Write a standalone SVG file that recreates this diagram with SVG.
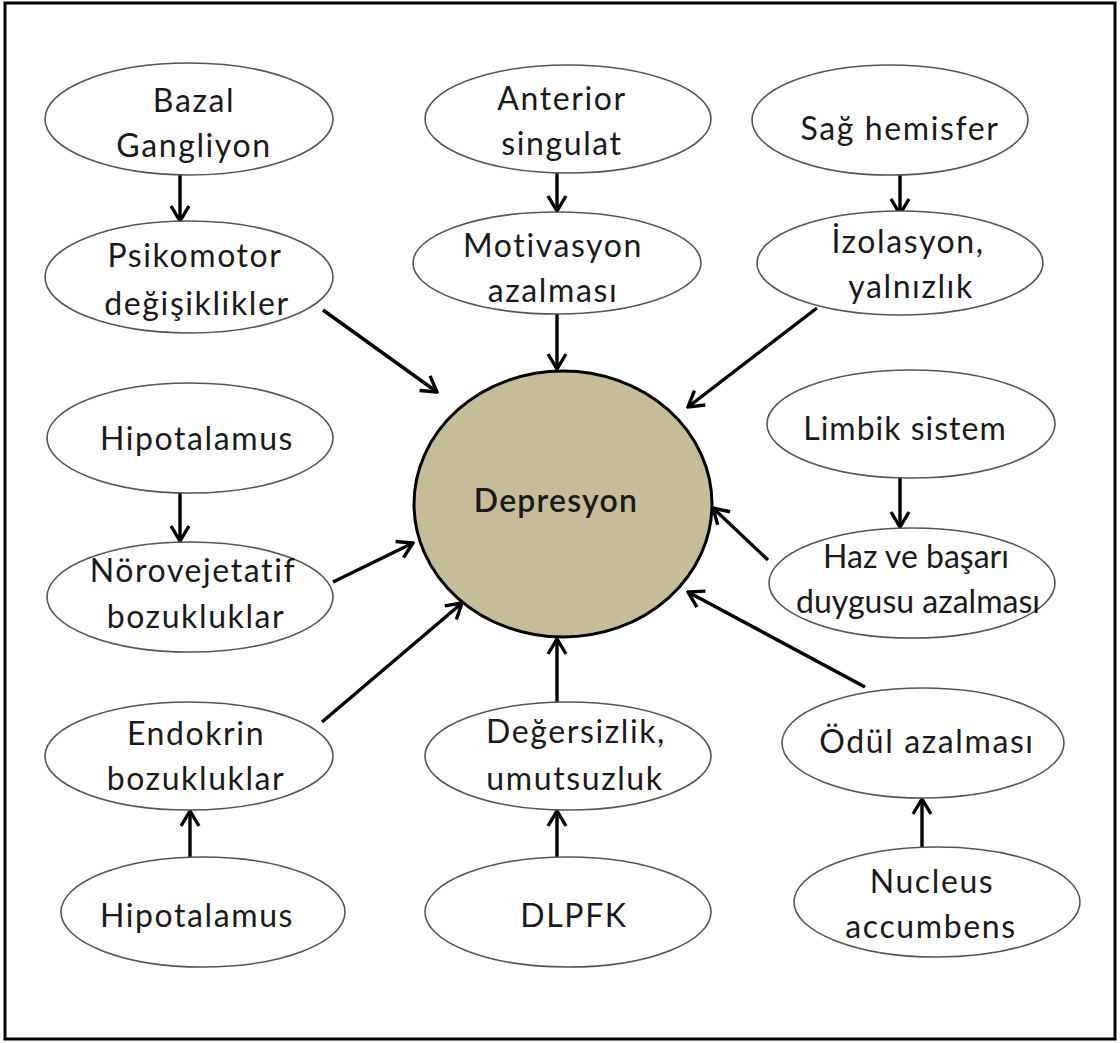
<svg xmlns="http://www.w3.org/2000/svg" width="1120" height="1043" viewBox="0 0 1120 1043">
<style>
.n ellipse{fill:#fff;stroke:#555;stroke-width:1.6}
text{font-family:Lato,"Liberation Sans",sans-serif;font-size:32px;letter-spacing:1.6px;fill:#1a1a1a;text-anchor:middle}
.tight text{letter-spacing:0}
.c line{stroke:#000;stroke-width:3.4;marker-end:url(#ah)}
</style>
<defs>
<marker id="ah" viewBox="-18 -12 20 24" refX="0" refY="0" markerWidth="20" markerHeight="24" markerUnits="userSpaceOnUse" orient="auto">
<path d="M-15,-9 L0,0 L-15,9" fill="none" stroke="#000" stroke-width="3.4"/>
</marker>
</defs>
<rect x="0" y="0" width="1120" height="1043" fill="#fff"/>
<rect x="5" y="3" width="1110" height="1036" fill="none" stroke="#000" stroke-width="3"/>

<g class="c" id="connectors">
<line x1="180" y1="175" x2="180" y2="221"/>
<line x1="557" y1="173" x2="557" y2="211"/>
<line x1="900" y1="175" x2="900" y2="214"/>
<line x1="557" y1="313" x2="557" y2="369"/>
<line x1="323" y1="310" x2="437" y2="392"/>
<line x1="817" y1="308" x2="688" y2="407"/>
<line x1="180" y1="493" x2="180" y2="541"/>
<line x1="333" y1="582" x2="413" y2="543"/>
<line x1="322" y1="722" x2="462" y2="603"/>
<line x1="900" y1="478" x2="900" y2="527"/>
<line x1="768" y1="560" x2="713" y2="508"/>
<line x1="865" y1="687" x2="688" y2="592"/>
<line x1="557" y1="702" x2="557" y2="639"/>
<line x1="190" y1="857" x2="190" y2="811"/>
<line x1="557" y1="857" x2="557" y2="811"/>
<line x1="922" y1="847" x2="922" y2="799"/>
</g>

<g class="n" id="n-bazal"><ellipse cx="189" cy="119" rx="144" ry="56"/><text x="194" y="112">Bazal</text><text x="194" y="157">Gangliyon</text></g>
<g class="n" id="n-psikomotor"><ellipse cx="189" cy="277" rx="144" ry="56"/><text x="195" y="267">Psikomotor</text><text x="197" y="315">değişiklikler</text></g>
<g class="n" id="n-anterior"><ellipse cx="568" cy="119" rx="143" ry="54"/><text x="562" y="110">Anterior</text><text x="562" y="155">singulat</text></g>
<g class="n" id="n-motivasyon"><ellipse cx="557" cy="263" rx="144" ry="51"/><text x="553" y="257">Motivasyon</text><text x="553" y="302">azalması</text></g>
<g class="n" id="n-sag"><ellipse cx="890" cy="120" rx="138" ry="55"/><text x="900" y="140">Sağ hemisfer</text></g>
<g class="n" id="n-izolasyon"><ellipse cx="900" cy="263" rx="143" ry="52"/><text x="908" y="253">İzolasyon,</text><text x="911" y="298">yalnızlık</text></g>
<g class="n" id="n-hipotalamus1"><ellipse cx="190" cy="438" rx="143" ry="55"/><text x="197" y="450">Hipotalamus</text></g>
<g class="n" id="n-norovejetatif"><ellipse cx="190" cy="597" rx="143" ry="55"/><text x="193" y="582">Nörovejetatif</text><text x="196" y="628">bozukluklar</text></g>
<g class="n tight" id="n-limbik"><ellipse cx="911" cy="424" rx="144" ry="54"/><text x="905" y="440" style="letter-spacing:1px">Limbik sistem</text></g>
<g class="n tight" id="n-haz"><ellipse cx="912" cy="583" rx="143" ry="55"/><text x="916" y="568">Haz ve başarı</text><text x="918" y="613">duygusu azalması</text></g>
<g class="n" id="n-endokrin"><ellipse cx="189" cy="756" rx="144" ry="54"/><text x="196" y="745">Endokrin</text><text x="196" y="790">bozukluklar</text></g>
<g class="n" id="n-hipotalamus2"><ellipse cx="203" cy="912" rx="142" ry="55"/><text x="197" y="927">Hipotalamus</text></g>
<g class="n" id="n-degersizlik"><ellipse cx="568" cy="756" rx="143" ry="54"/><text x="576" y="743">Değersizlik,</text><text x="575" y="790">umutsuzluk</text></g>
<g class="n" id="n-dlpfk"><ellipse cx="568" cy="912" rx="143" ry="55"/><text x="574" y="927">DLPFK</text></g>
<g class="n" id="n-odul"><ellipse cx="923" cy="743" rx="141" ry="55"/><text x="927" y="753">Ödül azalması</text></g>
<g class="n" id="n-nucleus"><ellipse cx="937" cy="902" rx="143" ry="55"/><text x="932" y="893">Nucleus</text><text x="931" y="938">accumbens</text></g>

<g id="n-depresyon"><ellipse cx="563" cy="504" rx="149" ry="133" fill="#c4bd97" stroke="#000" stroke-width="3"/><text x="556" y="512" style="font-weight:600;font-size:32px;letter-spacing:1.2px">Depresyon</text></g>
</svg>
